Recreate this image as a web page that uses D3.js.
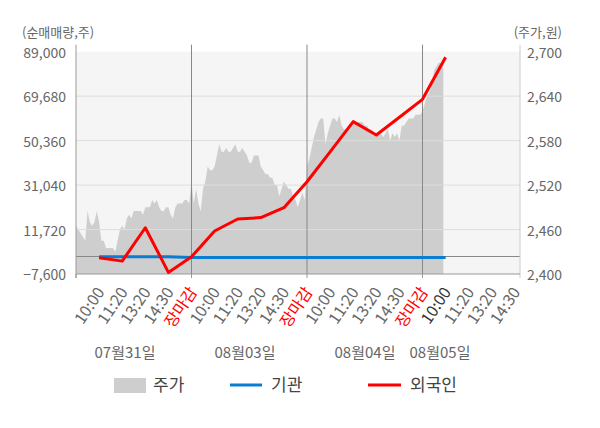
<!DOCTYPE html>
<html><head><meta charset="utf-8">
<script src="https://cdn.jsdelivr.net/npm/d3@7"></script>
<style>body{margin:0;background:#fff}svg{display:block}text{font-family:"Noto Sans CJK KR","Noto Sans",sans-serif}</style>
</head><body><svg id="c" width="600" height="428"></svg>
<script>
// ---- data ----
const leftTicks = [-7600, 11720, 31040, 50360, 69680, 89000];
const rightTicks = [2400, 2460, 2520, 2580, 2640, 2700];
const timeLabels = ["10:00","11:20","13:20","14:30","장마감","10:00","11:20","13:20","14:30","장마감","10:00","11:20","13:20","14:30","장마감","10:00","11:20","13:20","14:30"];
const dateLabels = ["07월31일","08월03일","08월04일","08월05일"];
// price (주가) sampled at 10 points per label slot
const price = [
2465,2460,2455,2450,2445,2485,2470,2465,2470,2485,
2470,2445,2445,2435,2435,2435,2435,2430,2445,2460,
2465,2460,2475,2480,2475,2485,2485,2485,2485,2480,
2490,2490,2490,2500,2495,2500,2490,2485,2485,2490,
2490,2480,2475,2490,2495,2495,2495,2500,2500,2495,
2525,2495,2515,2495,2485,2515,2525,2545,2540,2540,
2545,2560,2575,2565,2565,2570,2565,2565,2570,2575,
2565,2565,2570,2565,2560,2550,2550,2560,2560,2560,
2545,2540,2535,2535,2530,2530,2520,2520,2505,2515,
2525,2520,2515,2515,2505,2500,2490,2500,2510,2500,
2545,2555,2570,2585,2595,2605,2610,2610,2575,2590,
2600,2610,2610,2605,2615,2600,2595,2595,2595,2600,
2605,2605,2605,2605,2605,2600,2600,2595,2595,2590,
2590,2590,2590,2585,2590,2595,2580,2590,2585,2590,
2580,2600,2600,2605,2610,2610,2610,2615,2615,2615,
2620,2630,2640,2645,2655,2675,2680,2685,2685,2680
];
// net purchase at slots 1..16
const foreign = [-500,-2000,12500,-6900,-100,11100,16300,16900,21200,32500,45500,58600,52800,60500,68300,86600];
const institution = [-100,-100,-100,-100,-400,-400,-400,-400,-400,-400,-400,-400,-400,-400,-400,-400];

// ---- layout ----
const svg = d3.select("#c");
const L = 76, R = 520, T = 51.7, B = 274;
const x = d3.scaleLinear().domain([0, 19.22]).range([L, R]);
const yL = d3.scaleLinear().domain([-7600, 89000]).range([B, T]);
const yR = d3.scaleLinear().domain([2400, 2700]).range([B, T]);

svg.append("rect").attr("x", L).attr("y", T).attr("width", R - L).attr("height", B - T).attr("fill", "#f5f5f5");

// area
const area = d3.area().x((d, i) => x(i / 10)).y0(B).y1(d => yR(d));
svg.append("path").datum(price).attr("d", area).attr("fill", "#cecece");

// grid
svg.append("g").selectAll("line").data(leftTicks.slice(1, 5)).join("line")
  .attr("x1", L).attr("x2", R).attr("y1", d => yL(d)).attr("y2", d => yL(d))
  .attr("stroke", "#dddddd").attr("stroke-width", 1);
// zero line
svg.append("line").attr("x1", L).attr("x2", R).attr("y1", yL(0)).attr("y2", yL(0)).attr("stroke", "#888").attr("stroke-width", 1);
// day separators
svg.append("g").selectAll("line").data([5, 10, 15]).join("line")
  .attr("x1", d => x(d)).attr("x2", d => x(d)).attr("y1", T - 7).attr("y2", B)
  .attr("stroke", "#888").attr("stroke-width", 1);

// axes lines
svg.append("line").attr("x1", L).attr("x2", L).attr("y1", T - 7).attr("y2", B + 4).attr("stroke", "#999");
svg.append("line").attr("x1", R).attr("x2", R).attr("y1", T - 7).attr("y2", B + 4).attr("stroke", "#ccc");
svg.append("line").attr("x1", L).attr("x2", R).attr("y1", B).attr("y2", B).attr("stroke", "#999");
svg.append("g").selectAll("line").data([0, 5, 10, 15]).join("line")
  .attr("x1", d => x(d)).attr("x2", d => x(d)).attr("y1", B).attr("y2", B + 4).attr("stroke", "#999");

// lines
const line = d3.line().x((d, i) => x(i + 1)).y(d => yL(d));
svg.append("path").datum(institution).attr("d", line).attr("fill", "none").attr("stroke", "#0b7dd0").attr("stroke-width", 3);
svg.append("path").datum(foreign).attr("d", line).attr("fill", "none").attr("stroke", "#ff0000").attr("stroke-width", 3).attr("stroke-linejoin", "round");

// left axis labels
const yAxisL = d3.axisLeft(yL).tickValues(leftTicks).tickSize(0).tickPadding(0).tickFormat(d3.format(","));
const gL = svg.append("g").attr("transform", `translate(${L - 10},1)`).call(yAxisL);
gL.select(".domain").remove();
gL.selectAll("text").attr("font-size", 14).attr("fill", "#666").attr("font-family", '"Noto Sans CJK KR"');
const yAxisR = d3.axisRight(yR).tickValues(rightTicks).tickSize(0).tickPadding(0).tickFormat(d3.format(","));
const gR = svg.append("g").attr("transform", `translate(${R + 7},1)`).call(yAxisR);
gR.select(".domain").remove();
gR.selectAll("text").attr("font-size", 14).attr("fill", "#666").attr("font-family", '"Noto Sans CJK KR"');

svg.append("text").attr("x", 22).attr("y", 36.5).attr("font-size", 13).attr("fill", "#666").text("(순매매량,주)");
svg.append("text").attr("x", 562).attr("y", 36.5).attr("text-anchor", "end").attr("font-size", 13).attr("fill", "#666").text("(주가,원)");

// x labels
svg.append("g").selectAll("text").data(timeLabels).join("text")
  .attr("transform", (d, i) => `translate(${x(i + 1) + 1.5},${B + 15}) rotate(-56)`)
  .attr("text-anchor", "end").attr("dy", "0.35em").attr("font-size", 16)
  .attr("fill", (d, i) => d === "장마감" ? "#ff0000" : (i === 15 ? "#333" : "#666"))
  .text(d => d);

const dateX = [125, 245, 365, 440];
svg.append("g").selectAll("text").data(dateLabels).join("text")
  .attr("x", (d, i) => dateX[i]).attr("y", 358).attr("text-anchor", "middle")
  .attr("font-size", 15).attr("fill", "#666").text(d => d);

// legend
const lg = svg.append("g");
lg.append("rect").attr("x", 114).attr("y", 378).attr("width", 32).attr("height", 15).attr("fill", "#cecece");
lg.append("text").attr("x", 153).attr("y", 391).attr("font-size", 17).attr("fill", "#444").text("주가");
lg.append("line").attr("x1", 230).attr("x2", 262).attr("y1", 385).attr("y2", 385).attr("stroke", "#0b7dd0").attr("stroke-width", 3);
lg.append("text").attr("x", 271).attr("y", 391).attr("font-size", 17).attr("fill", "#444").text("기관");
lg.append("line").attr("x1", 368).attr("x2", 401).attr("y1", 385).attr("y2", 385).attr("stroke", "#ff0000").attr("stroke-width", 3);
lg.append("text").attr("x", 410).attr("y", 391).attr("font-size", 17).attr("fill", "#444").text("외국인");
</script></body></html>
